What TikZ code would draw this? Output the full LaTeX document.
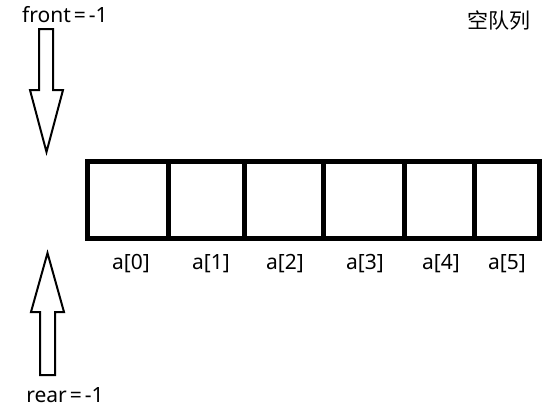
\documentclass[tikz,border=0pt]{standalone}
\usepackage{fontspec}
\setmainfont{Noto Sans}
\newfontfamily\cjk{Noto Sans CJK SC}
\begin{document}
\begin{tikzpicture}[x=1pt,y=-1pt,
  lbl/.style={font=\fontsize{21}{24}\selectfont,inner sep=0},
  bigarrow/.style={draw,line width=2pt,line join=miter,fill=white}]
\useasboundingbox (0,0) rectangle (553,408);
% cells
\foreach \i/\a/\b in {0/87.5/168.5,1/168.5/244.5,2/244.5/323.5,3/323.5/404.5,4/404.5/474.5,5/474.5/539.5}{
  \coordinate (c\i nw) at (\a,161.5);
  \coordinate (c\i se) at (\b,238.5);
}
\draw[line width=5pt] (c0nw) rectangle (c5se);
\foreach \i in {0,...,4}{\draw[line width=5pt] (c\i se) -- (c\i se |- c0nw);}
% labels
\node[lbl] (l0) at (131,264) {a[0]};
\node[lbl] (l1) at (211,264) {a[1]};
\node[lbl] (l2) at (285,264) {a[2]};
\node[lbl] (l3) at (365,264) {a[3]};
\node[lbl] (l4) at (441,264) {a[4]};
\node[lbl] (l5) at (507,264) {a[5]};
% front arrow
\node[lbl] (front) at (65,15) {front\kern3pt=\kern3pt-1};
\draw[bigarrow] (39,29) -- (53,29) -- (53,90) -- (63,90) -- (46.5,152) -- (30,90) -- (39,90) -- cycle;
% rear arrow
\node[lbl] (rear) at (65,395) {rear\kern3pt=\kern3pt-1};
\draw[bigarrow] (40,375) -- (55,375) -- (55,312) -- (64,312) -- (47.5,253) -- (31,312) -- (40,312) -- cycle;
% title
\node[lbl,font=\cjk\fontsize{21}{24}\selectfont] (title) at (499,21) {空队列};
\end{tikzpicture}
\end{document}
